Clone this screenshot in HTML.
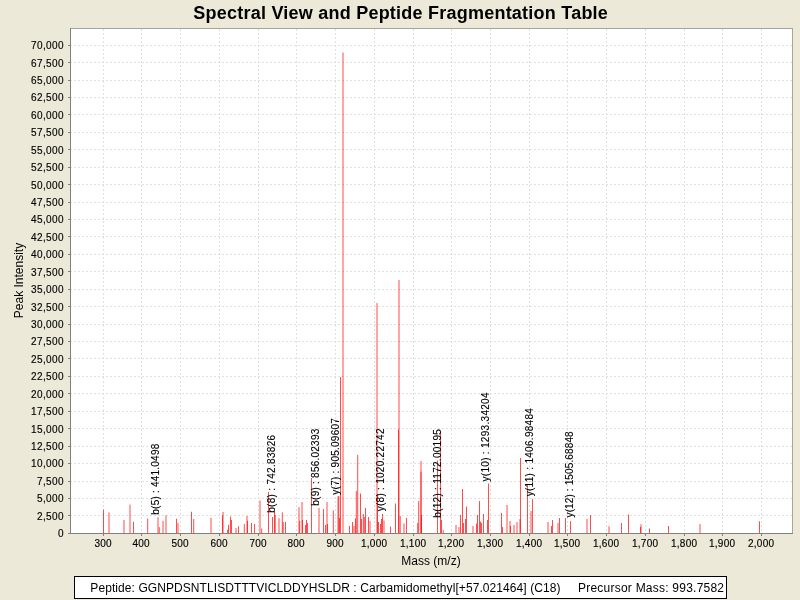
<!DOCTYPE html>
<html><head><meta charset="utf-8"><style>
html,body{margin:0;padding:0;background:#ECE9D8;}
body{width:800px;height:600px;overflow:hidden;position:relative;font-family:"Liberation Sans",sans-serif;}
svg{position:absolute;left:0;top:0;will-change:transform;}
svg text{font-family:"Liberation Sans",sans-serif;}
.tk text{stroke:#000;stroke-width:0.15px;}
.lb text{stroke:#000;stroke-width:0.12px;}
</style></head><body>
<svg width="800" height="600" viewBox="0 0 800 600">

<rect x="70" y="28" width="722" height="505" fill="#ffffff"/>
<g stroke="#e0e0e0" stroke-width="1" stroke-dasharray="2 2"><line x1="70" y1="515.5" x2="792" y2="515.5"/><line x1="70" y1="498.5" x2="792" y2="498.5"/><line x1="70" y1="481.5" x2="792" y2="481.5"/><line x1="70" y1="463.5" x2="792" y2="463.5"/><line x1="70" y1="446.5" x2="792" y2="446.5"/><line x1="70" y1="428.5" x2="792" y2="428.5"/><line x1="70" y1="411.5" x2="792" y2="411.5"/><line x1="70" y1="393.5" x2="792" y2="393.5"/><line x1="70" y1="376.5" x2="792" y2="376.5"/><line x1="70" y1="358.5" x2="792" y2="358.5"/><line x1="70" y1="341.5" x2="792" y2="341.5"/><line x1="70" y1="324.5" x2="792" y2="324.5"/><line x1="70" y1="306.5" x2="792" y2="306.5"/><line x1="70" y1="289.5" x2="792" y2="289.5"/><line x1="70" y1="271.5" x2="792" y2="271.5"/><line x1="70" y1="254.5" x2="792" y2="254.5"/><line x1="70" y1="236.5" x2="792" y2="236.5"/><line x1="70" y1="219.5" x2="792" y2="219.5"/><line x1="70" y1="202.5" x2="792" y2="202.5"/><line x1="70" y1="184.5" x2="792" y2="184.5"/><line x1="70" y1="167.5" x2="792" y2="167.5"/><line x1="70" y1="149.5" x2="792" y2="149.5"/><line x1="70" y1="132.5" x2="792" y2="132.5"/><line x1="70" y1="114.5" x2="792" y2="114.5"/><line x1="70" y1="97.5" x2="792" y2="97.5"/><line x1="70" y1="80.5" x2="792" y2="80.5"/><line x1="70" y1="62.5" x2="792" y2="62.5"/><line x1="70" y1="45.5" x2="792" y2="45.5"/><line x1="103.5" y1="29" x2="103.5" y2="533"/><line x1="141.5" y1="29" x2="141.5" y2="533"/><line x1="180.5" y1="29" x2="180.5" y2="533"/><line x1="219.5" y1="29" x2="219.5" y2="533"/><line x1="258.5" y1="29" x2="258.5" y2="533"/><line x1="296.5" y1="29" x2="296.5" y2="533"/><line x1="335.5" y1="29" x2="335.5" y2="533"/><line x1="374.5" y1="29" x2="374.5" y2="533"/><line x1="413.5" y1="29" x2="413.5" y2="533"/><line x1="451.5" y1="29" x2="451.5" y2="533"/><line x1="490.5" y1="29" x2="490.5" y2="533"/><line x1="529.5" y1="29" x2="529.5" y2="533"/><line x1="567.5" y1="29" x2="567.5" y2="533"/><line x1="606.5" y1="29" x2="606.5" y2="533"/><line x1="645.5" y1="29" x2="645.5" y2="533"/><line x1="684.5" y1="29" x2="684.5" y2="533"/><line x1="722.5" y1="29" x2="722.5" y2="533"/><line x1="761.5" y1="29" x2="761.5" y2="533"/></g>
<g fill="rgb(255,0,0)" fill-opacity="0.7"><rect x="103.00" y="509.65" width="1" height="23.35"/><rect x="108.50" y="512.40" width="1" height="20.60"/><rect x="123.50" y="520.00" width="1" height="13.00"/><rect x="129.50" y="504.60" width="1" height="28.40"/><rect x="133.00" y="521.90" width="1" height="11.10"/><rect x="147.20" y="518.60" width="1" height="14.40"/><rect x="157.50" y="517.20" width="1" height="15.80"/><rect x="158.75" y="527.10" width="1" height="5.90"/><rect x="162.50" y="520.75" width="1" height="12.25"/><rect x="165.50" y="515.35" width="1" height="17.65"/><rect x="176.00" y="518.70" width="1" height="14.30"/><rect x="177.50" y="523.00" width="1" height="10.00"/><rect x="191.00" y="511.75" width="1" height="21.25"/><rect x="193.20" y="519.00" width="1" height="14.00"/><rect x="210.50" y="517.90" width="1" height="15.10"/><rect x="222.00" y="515.40" width="1" height="17.60"/><rect x="222.50" y="511.90" width="1" height="21.10"/><rect x="227.10" y="529.80" width="1" height="3.20"/><rect x="228.00" y="524.90" width="1" height="8.10"/><rect x="230.00" y="516.60" width="1" height="16.40"/><rect x="231.00" y="520.00" width="1" height="13.00"/><rect x="235.50" y="528.10" width="1" height="4.90"/><rect x="238.00" y="526.20" width="1" height="6.80"/><rect x="243.80" y="524.10" width="1" height="8.90"/><rect x="246.50" y="515.90" width="1" height="17.10"/><rect x="247.00" y="520.75" width="1" height="12.25"/><rect x="251.00" y="523.00" width="1" height="10.00"/><rect x="254.00" y="523.90" width="1" height="9.10"/><rect x="259.50" y="500.50" width="1" height="32.50"/><rect x="261.20" y="528.50" width="1" height="4.50"/><rect x="268.00" y="491.80" width="1" height="41.20"/><rect x="272.00" y="517.00" width="1" height="16.00"/><rect x="274.00" y="512.00" width="1" height="21.00"/><rect x="274.70" y="515.00" width="1" height="18.00"/><rect x="278.50" y="518.20" width="1" height="14.80"/><rect x="281.80" y="512.30" width="1" height="20.70"/><rect x="282.70" y="522.00" width="1" height="11.00"/><rect x="285.00" y="521.80" width="1" height="11.20"/><rect x="298.50" y="507.20" width="1" height="25.80"/><rect x="299.20" y="521.00" width="1" height="12.00"/><rect x="301.50" y="502.00" width="1" height="31.00"/><rect x="302.00" y="520.00" width="1" height="13.00"/><rect x="305.00" y="525.00" width="1" height="8.00"/><rect x="306.00" y="520.00" width="1" height="13.00"/><rect x="307.00" y="523.00" width="1" height="10.00"/><rect x="311.00" y="478.00" width="1" height="55.00"/><rect x="318.50" y="508.00" width="1" height="25.00"/><rect x="323.00" y="509.00" width="1" height="24.00"/><rect x="326.50" y="502.00" width="1" height="31.00"/><rect x="327.00" y="524.00" width="1" height="9.00"/><rect x="325.00" y="525.00" width="1" height="8.00"/><rect x="332.80" y="510.50" width="1" height="22.50"/><rect x="337.50" y="496.50" width="1" height="36.50"/><rect x="338.30" y="496.00" width="1" height="37.00"/><rect x="339.00" y="518.00" width="1" height="15.00"/><rect x="340.00" y="377.00" width="1" height="156.00"/><rect x="342.50" y="52.50" width="1" height="480.50"/><rect x="349.00" y="526.00" width="1" height="7.00"/><rect x="352.00" y="522.00" width="1" height="11.00"/><rect x="353.50" y="526.00" width="1" height="7.00"/><rect x="355.00" y="518.50" width="1" height="14.50"/><rect x="355.80" y="491.00" width="1" height="42.00"/><rect x="357.20" y="455.00" width="1" height="78.00"/><rect x="360.00" y="493.50" width="1" height="39.50"/><rect x="361.00" y="519.00" width="1" height="14.00"/><rect x="362.80" y="514.00" width="1" height="19.00"/><rect x="363.80" y="517.00" width="1" height="16.00"/><rect x="365.00" y="508.00" width="1" height="25.00"/><rect x="368.00" y="517.00" width="1" height="16.00"/><rect x="369.50" y="521.00" width="1" height="12.00"/><rect x="376.50" y="303.10" width="1" height="229.90"/><rect x="377.00" y="494.00" width="1" height="39.00"/><rect x="378.00" y="522.00" width="1" height="11.00"/><rect x="380.00" y="524.00" width="1" height="9.00"/><rect x="381.00" y="519.00" width="1" height="14.00"/><rect x="382.00" y="514.00" width="1" height="19.00"/><rect x="383.50" y="520.50" width="1" height="12.50"/><rect x="390.00" y="526.50" width="1" height="6.50"/><rect x="395.00" y="503.50" width="1" height="29.50"/><rect x="398.50" y="280.00" width="1" height="253.00"/><rect x="398.00" y="429.50" width="1" height="103.50"/><rect x="399.70" y="516.00" width="1" height="17.00"/><rect x="403.50" y="523.50" width="1" height="9.50"/><rect x="406.00" y="518.00" width="1" height="15.00"/><rect x="417.20" y="523.00" width="1" height="10.00"/><rect x="418.20" y="501.00" width="1" height="32.00"/><rect x="420.50" y="461.00" width="1" height="72.00"/><rect x="420.50" y="471.70" width="1" height="61.30"/><rect x="421.00" y="515.00" width="1" height="18.00"/><rect x="437.00" y="460.50" width="1" height="72.50"/><rect x="440.00" y="432.50" width="1" height="100.50"/><rect x="441.00" y="520.00" width="1" height="13.00"/><rect x="442.70" y="530.00" width="1" height="3.00"/><rect x="455.50" y="525.00" width="1" height="8.00"/><rect x="458.50" y="527.00" width="1" height="6.00"/><rect x="460.00" y="515.00" width="1" height="18.00"/><rect x="462.00" y="489.00" width="1" height="44.00"/><rect x="463.00" y="523.00" width="1" height="10.00"/><rect x="465.00" y="519.00" width="1" height="14.00"/><rect x="466.00" y="506.50" width="1" height="26.50"/><rect x="472.50" y="526.00" width="1" height="7.00"/><rect x="476.00" y="523.50" width="1" height="9.50"/><rect x="477.00" y="515.00" width="1" height="18.00"/><rect x="479.00" y="501.00" width="1" height="32.00"/><rect x="480.00" y="521.50" width="1" height="11.50"/><rect x="481.00" y="523.00" width="1" height="10.00"/><rect x="483.00" y="514.00" width="1" height="19.00"/><rect x="487.00" y="520.00" width="1" height="13.00"/><rect x="488.00" y="483.50" width="1" height="49.50"/><rect x="501.00" y="513.00" width="1" height="20.00"/><rect x="502.00" y="527.00" width="1" height="6.00"/><rect x="506.50" y="505.00" width="1" height="28.00"/><rect x="509.50" y="521.00" width="1" height="12.00"/><rect x="510.00" y="526.00" width="1" height="7.00"/><rect x="513.50" y="525.00" width="1" height="8.00"/><rect x="516.50" y="522.00" width="1" height="11.00"/><rect x="519.50" y="519.00" width="1" height="14.00"/><rect x="520.00" y="458.00" width="1" height="75.00"/><rect x="527.00" y="484.00" width="1" height="49.00"/><rect x="530.50" y="511.00" width="1" height="22.00"/><rect x="532.00" y="499.00" width="1" height="34.00"/><rect x="547.50" y="522.00" width="1" height="11.00"/><rect x="551.00" y="526.00" width="1" height="7.00"/><rect x="552.00" y="520.00" width="1" height="13.00"/><rect x="557.50" y="523.00" width="1" height="10.00"/><rect x="559.00" y="518.00" width="1" height="15.00"/><rect x="565.00" y="518.00" width="1" height="15.00"/><rect x="570.00" y="521.20" width="1" height="11.80"/><rect x="586.50" y="518.80" width="1" height="14.20"/><rect x="590.00" y="515.00" width="1" height="18.00"/><rect x="608.50" y="526.20" width="1" height="6.80"/><rect x="621.00" y="523.00" width="1" height="10.00"/><rect x="628.00" y="514.50" width="1" height="18.50"/><rect x="640.00" y="527.00" width="1" height="6.00"/><rect x="640.50" y="524.20" width="1" height="8.80"/><rect x="649.00" y="528.50" width="1" height="4.50"/><rect x="668.00" y="526.00" width="1" height="7.00"/><rect x="699.50" y="524.00" width="1" height="9.00"/><rect x="759.00" y="521.30" width="1" height="11.70"/></g>
<g class="lb" font-size="10" fill="#000"><text transform="translate(159.0,514.67) rotate(-90)" letter-spacing="0.219">b(5) : 441.0498</text><text transform="translate(275.25,512.8) rotate(-90)" letter-spacing="0.298">b(8) : 742.83826</text><text transform="translate(319.1,505.7) rotate(-90)" letter-spacing="0.238">b(9) : 856.02393</text><text transform="translate(339.0,494.7) rotate(-90)" letter-spacing="0.249">y(7) : 905.09607</text><text transform="translate(383.65,511.3) rotate(-90)" letter-spacing="0.273">y(8) : 1020.22742</text><text transform="translate(441.25,517.7) rotate(-90)" letter-spacing="0.282">b(12) : 1172.00195</text><text transform="translate(489.3,481.5) rotate(-90)" letter-spacing="0.298">y(10) : 1293.34204</text><text transform="translate(532.9,496.3) rotate(-90)" letter-spacing="0.291">y(11) : 1406.98484</text><text transform="translate(572.65,517.5) rotate(-90)" letter-spacing="0.13">y(12) : 1505.68848</text></g>
<g shape-rendering="crispEdges">
<line x1="70" y1="28.5" x2="793" y2="28.5" stroke="#a6a69c"/>
<line x1="792.5" y1="28" x2="792.5" y2="533" stroke="#a6a69c"/>
<line x1="70.5" y1="28" x2="70.5" y2="534" stroke="#808080"/>
<line x1="70" y1="533.5" x2="793" y2="533.5" stroke="#808080"/>
<line x1="68" y1="533.5" x2="70" y2="533.5" stroke="#808080"/>
<line x1="68" y1="515.5" x2="70" y2="515.5" stroke="#808080"/>
<line x1="68" y1="498.5" x2="70" y2="498.5" stroke="#808080"/>
<line x1="68" y1="481.5" x2="70" y2="481.5" stroke="#808080"/>
<line x1="68" y1="463.5" x2="70" y2="463.5" stroke="#808080"/>
<line x1="68" y1="446.5" x2="70" y2="446.5" stroke="#808080"/>
<line x1="68" y1="428.5" x2="70" y2="428.5" stroke="#808080"/>
<line x1="68" y1="411.5" x2="70" y2="411.5" stroke="#808080"/>
<line x1="68" y1="393.5" x2="70" y2="393.5" stroke="#808080"/>
<line x1="68" y1="376.5" x2="70" y2="376.5" stroke="#808080"/>
<line x1="68" y1="358.5" x2="70" y2="358.5" stroke="#808080"/>
<line x1="68" y1="341.5" x2="70" y2="341.5" stroke="#808080"/>
<line x1="68" y1="324.5" x2="70" y2="324.5" stroke="#808080"/>
<line x1="68" y1="306.5" x2="70" y2="306.5" stroke="#808080"/>
<line x1="68" y1="289.5" x2="70" y2="289.5" stroke="#808080"/>
<line x1="68" y1="271.5" x2="70" y2="271.5" stroke="#808080"/>
<line x1="68" y1="254.5" x2="70" y2="254.5" stroke="#808080"/>
<line x1="68" y1="236.5" x2="70" y2="236.5" stroke="#808080"/>
<line x1="68" y1="219.5" x2="70" y2="219.5" stroke="#808080"/>
<line x1="68" y1="202.5" x2="70" y2="202.5" stroke="#808080"/>
<line x1="68" y1="184.5" x2="70" y2="184.5" stroke="#808080"/>
<line x1="68" y1="167.5" x2="70" y2="167.5" stroke="#808080"/>
<line x1="68" y1="149.5" x2="70" y2="149.5" stroke="#808080"/>
<line x1="68" y1="132.5" x2="70" y2="132.5" stroke="#808080"/>
<line x1="68" y1="114.5" x2="70" y2="114.5" stroke="#808080"/>
<line x1="68" y1="97.5" x2="70" y2="97.5" stroke="#808080"/>
<line x1="68" y1="80.5" x2="70" y2="80.5" stroke="#808080"/>
<line x1="68" y1="62.5" x2="70" y2="62.5" stroke="#808080"/>
<line x1="68" y1="45.5" x2="70" y2="45.5" stroke="#808080"/>
<line x1="103.5" y1="534" x2="103.5" y2="536" stroke="#808080"/>
<line x1="141.5" y1="534" x2="141.5" y2="536" stroke="#808080"/>
<line x1="180.5" y1="534" x2="180.5" y2="536" stroke="#808080"/>
<line x1="219.5" y1="534" x2="219.5" y2="536" stroke="#808080"/>
<line x1="258.5" y1="534" x2="258.5" y2="536" stroke="#808080"/>
<line x1="296.5" y1="534" x2="296.5" y2="536" stroke="#808080"/>
<line x1="335.5" y1="534" x2="335.5" y2="536" stroke="#808080"/>
<line x1="374.5" y1="534" x2="374.5" y2="536" stroke="#808080"/>
<line x1="413.5" y1="534" x2="413.5" y2="536" stroke="#808080"/>
<line x1="451.5" y1="534" x2="451.5" y2="536" stroke="#808080"/>
<line x1="490.5" y1="534" x2="490.5" y2="536" stroke="#808080"/>
<line x1="529.5" y1="534" x2="529.5" y2="536" stroke="#808080"/>
<line x1="567.5" y1="534" x2="567.5" y2="536" stroke="#808080"/>
<line x1="606.5" y1="534" x2="606.5" y2="536" stroke="#808080"/>
<line x1="645.5" y1="534" x2="645.5" y2="536" stroke="#808080"/>
<line x1="684.5" y1="534" x2="684.5" y2="536" stroke="#808080"/>
<line x1="722.5" y1="534" x2="722.5" y2="536" stroke="#808080"/>
<line x1="761.5" y1="534" x2="761.5" y2="536" stroke="#808080"/>
</g>
<g class="tk" font-size="10" fill="#000" text-anchor="end" letter-spacing="0.4"><text x="64" y="537">0</text><text x="64" y="520">2,500</text><text x="64" y="502">5,000</text><text x="64" y="485">7,500</text><text x="64" y="467">10,000</text><text x="64" y="450">12,500</text><text x="64" y="433">15,000</text><text x="64" y="415">17,500</text><text x="64" y="398">20,000</text><text x="64" y="380">22,500</text><text x="64" y="363">25,000</text><text x="64" y="345">27,500</text><text x="64" y="328">30,000</text><text x="64" y="311">32,500</text><text x="64" y="293">35,000</text><text x="64" y="276">37,500</text><text x="64" y="258">40,000</text><text x="64" y="241">42,500</text><text x="64" y="223">45,000</text><text x="64" y="206">47,500</text><text x="64" y="189">50,000</text><text x="64" y="171">52,500</text><text x="64" y="154">55,000</text><text x="64" y="136">57,500</text><text x="64" y="119">60,000</text><text x="64" y="101">62,500</text><text x="64" y="84">65,000</text><text x="64" y="67">67,500</text><text x="64" y="49">70,000</text></g>
<g class="tk" font-size="10" fill="#000" text-anchor="middle" letter-spacing="0.3"><text x="103.20" y="547">300</text><text x="141.20" y="547">400</text><text x="180.20" y="547">500</text><text x="219.20" y="547">600</text><text x="258.20" y="547">700</text><text x="296.20" y="547">800</text><text x="335.20" y="547">900</text><text x="374.20" y="547">1,000</text><text x="413.20" y="547">1,100</text><text x="451.20" y="547">1,200</text><text x="490.20" y="547">1,300</text><text x="529.20" y="547">1,400</text><text x="567.20" y="547">1,500</text><text x="606.20" y="547">1,600</text><text x="645.20" y="547">1,700</text><text x="684.20" y="547">1,800</text><text x="722.20" y="547">1,900</text><text x="761.20" y="547">2,000</text></g>
<text x="431" y="565" font-size="12" text-anchor="middle" fill="#000">Mass (m/z)</text>
<text transform="translate(22.5,280.5) rotate(-90)" font-size="12" text-anchor="middle" fill="#000">Peak Intensity</text>
<text x="400.7" y="19" font-size="18" font-weight="bold" text-anchor="middle" letter-spacing="0.23" fill="#000">Spectral View and Peptide Fragmentation Table</text>
<rect x="74.5" y="576.5" width="652" height="22" fill="#fff" stroke="#000" stroke-width="1"/>
<text x="90.3" y="592" font-size="12" fill="#000" letter-spacing="0.08">Peptide: GGNPDSNTLISDTTTVICLDDYHSLDR : Carbamidomethyl[+57.021464] (C18)</text>
<text x="578" y="592" font-size="12" fill="#000" letter-spacing="0.23">Precursor Mass: 993.7582</text>
</svg></body></html>
